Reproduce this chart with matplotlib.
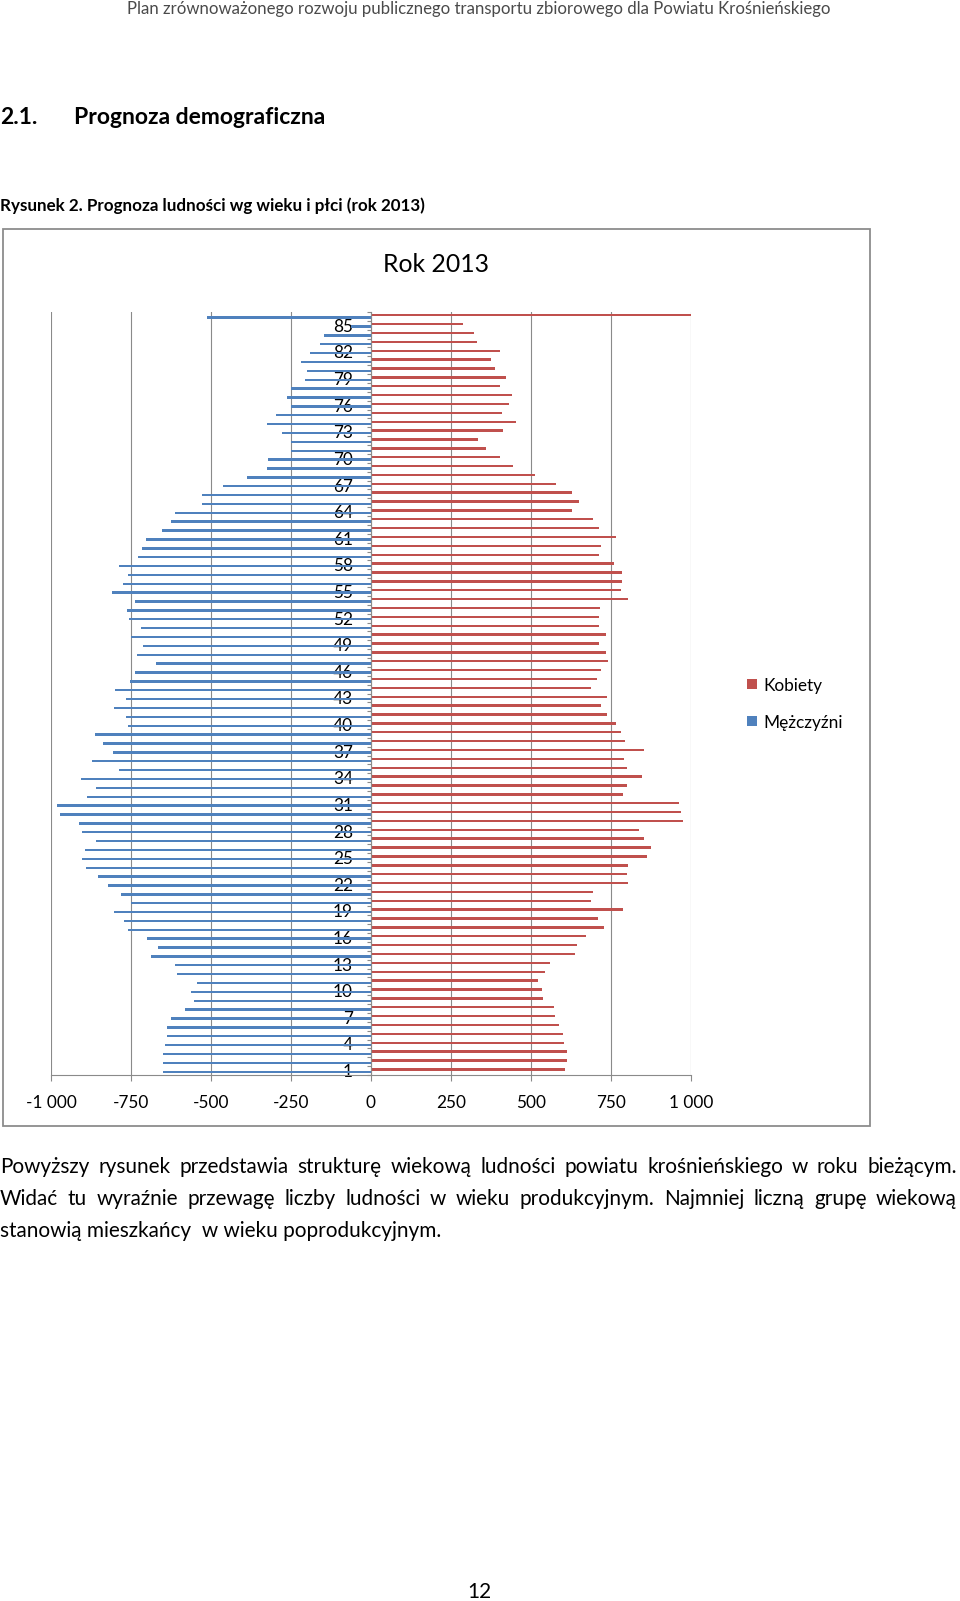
import matplotlib
matplotlib.use("Agg")
import matplotlib.pyplot as plt
from matplotlib.patches import Rectangle
from matplotlib.ticker import FixedLocator
import numpy as np

W, H, DPI = 960, 1601, 100

# ---------------- data ----------------
ages = list(range(1, 87))
kobiety = [607, 612, 613, 604, 600, 589, 575, 571, 538, 535,
           521, 543, 558, 639, 643, 672, 728, 708, 788, 686,
           695, 802, 799, 804, 864, 875, 854, 839, 974, 968,
           961, 789, 799, 848, 799, 792, 852, 795, 781, 766,
           737, 719, 737, 689, 707, 718, 741, 733, 714, 734,
           714, 712, 716, 802, 780, 785, 785, 760, 714, 720,
           765, 714, 693, 627, 651, 627, 578, 512, 443, 403,
           359, 334, 413, 454, 409, 432, 441, 402, 422, 386,
           376, 403, 332, 321, 288, 1000]
mezczyzni = [649, 649, 649, 643, 638, 636, 626, 582, 554, 562,
             543, 605, 613, 689, 665, 700, 758, 772, 802, 750,
             780, 823, 853, 891, 902, 894, 860, 904, 914, 971,
             980, 888, 858, 907, 788, 873, 807, 837, 862, 760,
             765, 802, 765, 799, 753, 737, 673, 730, 711, 749,
             720, 757, 762, 738, 808, 774, 758, 788, 727, 716,
             704, 653, 626, 611, 528, 528, 463, 389, 324, 321,
             250, 250, 278, 325, 298, 250, 264, 250, 206, 200,
             219, 190, 158, 147, 62, 514]
age_labels = list(range(1, 86, 3))
x_ticks = [-1000, -750, -500, -250, 0, 250, 500, 750, 1000]
x_tick_labels = ["-1 000", "-750", "-500", "-250", "0", "250", "500", "750", "1 000"]
series_names = ["Kobiety", "Mężczyźni"]
colors = ["#C0504D", "#4F81BD"]

header = "Plan zrównoważonego rozwoju publicznego transportu zbiorowego dla Powiatu Krośnieńskiego"
sec_num = "2.1."
sec_title = "Prognoza demograficzna"
fig_caption = "Rysunek 2. Prognoza ludności wg wieku i płci (rok 2013)"
chart_title = "Rok 2013"
para = ["Powyższy rysunek przedstawia strukturę wiekową ludności powiatu krośnieńskiego w roku bieżącym.",
        "Widać tu wyraźnie przewagę liczby ludności w wieku produkcyjnym. Najmniej liczną grupę wiekową",
        "stanowią mieszkańcy  w wieku poprodukcyjnym."]
page_no = "12"

plt.rcParams['font.family'] = ['Lato', 'DejaVu Sans']

fig = plt.figure(figsize=(W / DPI, H / DPI), dpi=DPI)
renderer = fig.canvas.get_renderer()


def fx(x):
    return x / W


def fy(y):
    return 1 - y / H


def text_w(t):
    return t.get_window_extent(renderer).width


def fit_size(s, target_w, **kw):
    t = fig.text(0, 0, s, fontsize=20, **kw)
    w = text_w(t)
    t.remove()
    return 20 * target_w / w


def put(x, y, s, size, ha='left', va='baseline', **kw):
    return fig.text(fx(x), fy(y), s, fontsize=size, ha=ha, va=va, **kw)


def justified(y, s, x0, x1, size, **kw):
    words = s.split()
    ts = [put(0, y, w_, size, **kw) for w_ in words]
    ws = [text_w(t) for t in ts]
    gap = (x1 - x0 - sum(ws)) / (len(words) - 1)
    x = x0
    for t, w_ in zip(ts, ws):
        t.set_x(fx(x))
        x += w_ + gap


# ---------------- page text ----------------
hs = fit_size(header, 704)
put(479, 14, header, hs, ha='center', color='#4a4a4a')

ts_ = fit_size(sec_title, 251, fontweight='bold')
put(0, 124, sec_num, ts_, fontweight='bold')
put(73.5, 124, sec_title, ts_, fontweight='bold')

cs = fit_size(fig_caption, 425, fontweight='bold')
put(0, 211, fig_caption, cs, fontweight='bold')

ps = fit_size(para[2], 443)
justified(1173, para[0], 0, 957, ps)
justified(1205, para[1], 0, 957, ps)
put(0, 1237, para[2], ps)

put(479, 1598, page_no, ps, ha='center')

# ---------------- chart frame ----------------
fig.add_artist(Rectangle((fx(3), fy(1126)), 867 / W, 897 / H, transform=fig.transFigure,
                         fill=False, edgecolor='#8c8c8c', lw=1.3))

tts = fit_size(chart_title, 106)
put(436, 264, chart_title, tts, ha='center', va='center')

lab_size = fit_size(x_tick_labels[0], 51)

# ---------------- axes ----------------
ax = fig.add_axes([fx(51), fy(1075), 640 / W, 763 / H])
y = np.array(ages, dtype=float)
ax.barh(y + 0.135, kobiety, height=0.27, color=colors[0], zorder=2)
ax.barh(y - 0.135, -np.array(mezczyzni), height=0.27, color=colors[1], zorder=2)

ax.set_xlim(-1000, 1000)
ax.set_ylim(0.5, 86.5)
ax.set_xticks(x_ticks)
ax.set_xticklabels(x_tick_labels)
ax.xaxis.grid(True, color='#8a8a8a', lw=0.8, zorder=0)
ax.set_axisbelow(True)

for s in ['top', 'right']:
    ax.spines[s].set_visible(False)
ax.spines['left'].set_position(('data', 0))
ax.spines['left'].set_color('#8a8a8a')
ax.spines['bottom'].set_color('#8a8a8a')
ax.spines['left'].set_linewidth(0.8)
ax.spines['bottom'].set_linewidth(0.8)
ax.spines['left'].set_zorder(3)

ax.set_yticks(age_labels)
ax.set_yticklabels([str(a) for a in age_labels])
ax.yaxis.set_minor_locator(FixedLocator(np.arange(0.5, 87, 1.0)))
ax.tick_params(axis='y', which='major', length=0, pad=13, labelsize=lab_size)
ax.tick_params(axis='y', which='minor', length=3, width=0.8, color='#8a8a8a', direction='out')
ax.tick_params(axis='x', which='major', length=4, width=0.8, color='#8a8a8a',
               direction='out', pad=10.5, labelsize=lab_size)
ax.patch.set_alpha(0)

# ---------------- legend ----------------
for i, (name, c) in enumerate(zip(series_names, colors)):
    yc = 684 + 37 * i
    fig.add_artist(Rectangle((fx(747), fy(yc + 5)), 10 / W, 10 / H, transform=fig.transFigure,
                             facecolor=c, edgecolor='none'))
    put(763, yc, name, lab_size, va='center_baseline')

fig.savefig('out.png', dpi=DPI)
